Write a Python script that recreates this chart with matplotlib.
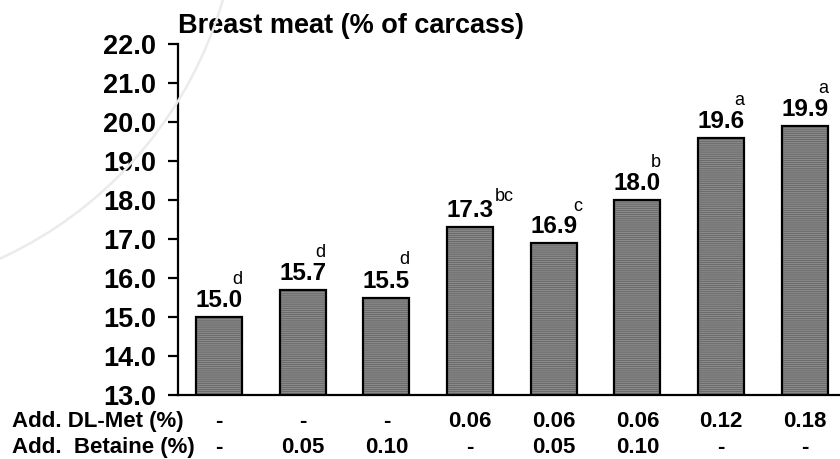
import matplotlib
matplotlib.use("Agg")
import matplotlib.pyplot as plt
from matplotlib.patches import Ellipse
from matplotlib.transforms import blended_transform_factory

# data
breast = [15.0, 15.7, 15.5, 17.3, 16.9, 18.0, 19.6, 19.9]
letters = ["d", "d", "d", "bc", "c", "b", "a", "a"]
dl_met = ["-", "-", "-", "0.06", "0.06", "0.06", "0.12", "0.18"]
betaine = ["-", "0.05", "0.10", "-", "0.05", "0.10", "-", "-"]
yticks = [13.0, 14.0, 15.0, 16.0, 17.0, 18.0, 19.0, 20.0, 21.0, 22.0]

plt.rcParams["font.family"] = ["Liberation Sans", "DejaVu Sans"]
plt.rcParams["hatch.linewidth"] = 1.0

PX = 0.72  # points per pixel at dpi 100

fig = plt.figure(figsize=(8.4, 4.59), dpi=100)
fig.patch.set_facecolor("white")

# faint watermark arc in the background
arc = Ellipse((-171 / 840, 1 + 114 / 459), 2 * 410 / 840, 2 * 410 / 459,
              transform=fig.transFigure, fill=False, edgecolor="#ebebeb",
              linewidth=1.8, zorder=0)
fig.patches.append(arc)

ax = fig.add_axes([178 / 840, 1 - 395 / 459, 1 - 178 / 840, (395 - 44) / 459])
ax.set_facecolor("none")

x = list(range(len(breast)))
ax.bar(x, breast, width=0.55, color="#5e5e5e", edgecolor="#8a8a8a",
       hatch="--------", linewidth=0, zorder=2)
ax.bar(x, breast, width=0.55, color="none", edgecolor="black",
       linewidth=1.6, zorder=3)

ax.set_ylim(13, 22)
ax.set_xlim(-0.49, 7.42)
ax.set_yticks(yticks)
ax.set_yticklabels(["%.1f" % t for t in yticks], fontsize=19.5, fontweight="bold")
ax.set_xticks([])
ax.tick_params(axis="y", length=7.5, width=1.6, pad=8, direction="out")
for side in ["top", "right"]:
    ax.spines[side].set_visible(False)
for side in ["left", "bottom"]:
    ax.spines[side].set_linewidth(1.6)

# value labels and significance letters
for i, v in enumerate(breast):
    ax.annotate("%.1f" % v, (i, v), xytext=(0, 10 * PX), textcoords="offset points",
                ha="center", va="baseline", fontsize=17.5, fontweight="bold")
    if letters[i] == "bc":
        ax.annotate(letters[i], (i, v), xytext=(25 * PX, 26 * PX),
                    textcoords="offset points", ha="left", va="baseline", fontsize=13)
    elif letters[i] == "c":
        ax.annotate(letters[i], (i, v), xytext=(19 * PX, 32 * PX),
                    textcoords="offset points", ha="left", va="baseline", fontsize=13)
    else:
        ax.annotate(letters[i], (i, v), xytext=(23 * PX, 33 * PX),
                    textcoords="offset points", ha="right", va="baseline", fontsize=13)

ax.set_title("Breast meat (% of carcass)", fontsize=19.5, fontweight="bold",
             loc="left", x=0.0, y=1.0, pad=8)

# treatment table under the bars
trans = blended_transform_factory(ax.transData, fig.transFigure)
row1_y = 1 - 427 / 459
row2_y = 1 - 453 / 459
fig.text(12 / 840, row1_y, "Add. DL-Met (%)", fontsize=16, fontweight="bold",
         ha="left", va="baseline")
fig.text(12 / 840, row2_y, "Add.  Betaine (%)", fontsize=16, fontweight="bold",
         ha="left", va="baseline")
for i in x:
    ax.text(i, row1_y, dl_met[i], transform=trans, fontsize=16,
            fontweight="bold", ha="center", va="baseline", clip_on=False)
    ax.text(i, row2_y, betaine[i], transform=trans, fontsize=16,
            fontweight="bold", ha="center", va="baseline", clip_on=False)

fig.savefig("out.png", dpi=100)
